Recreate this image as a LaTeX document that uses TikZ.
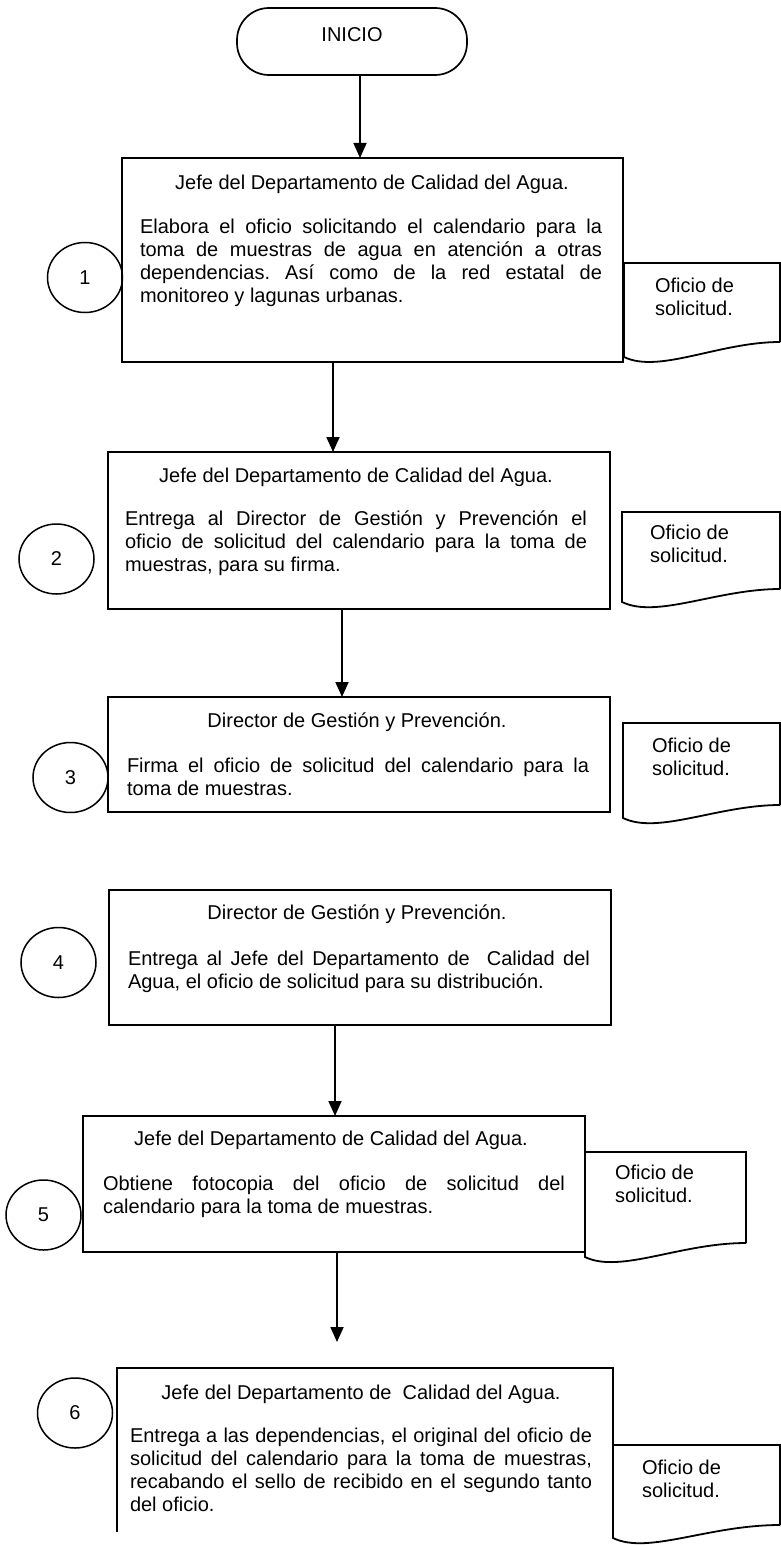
\documentclass[tikz,border=0pt]{standalone}
\usepackage{fontspec}
\setmainfont{Liberation Sans}
\usetikzlibrary{arrows.meta,shapes.geometric}
\hbadness=10000 \hfuzz=30pt
\frenchspacing
\newcommand\jl[1]{\hbox to 462pt{#1}}
\newcommand\lastln[1]{\hbox{#1}}
\newcommand\docshape[5]{% x1 x2 ytop ybottomleft ybottomright
  \draw[docline] (#2,#5) -- (#2,#3) -- (#1,#3) -- (#1,#4)
    .. controls ({#1+35},{#4+17}) and ({#1+95},#5) .. (#2,#5);}
\begin{document}
\begin{tikzpicture}[x=1pt,y=-1pt,
  every node/.style={font=\fontsize{20}{23}\selectfont, inner sep=0pt, outer sep=0pt},
  term/.style={draw, line width=1.7pt, rectangle, rounded corners=32pt, minimum width=230pt, minimum height=67pt},
  stepbox/.style={draw, line width=2pt, rectangle},
  stepcirc/.style={draw, line width=1.5pt, ellipse, minimum width=75pt, minimum height=70pt},
  docline/.style={line width=1.8pt, line join=miter},
  boxline/.style={line width=2pt},
  arr/.style={line width=1.8pt, -{Triangle[width=13pt,length=15pt]}},
  ttl/.style={anchor=base},
  para/.style={anchor=base west},
  doctxt/.style={anchor=base west}]
\useasboundingbox (0,0) rectangle (781,1546);

% start
\node[term] (ini) at (352,41.5) {};
\node[ttl] (initxt) at (352,42) {INICIO};

% step 1
\node[stepbox, minimum width=501pt, minimum height=204pt] (b1) at (372.5,260) {};
\node[ttl] (t1) at (372,190) {Jefe del Departamento de Calidad del Agua.};
\node[para] (p1) at (140,234) {\vtop{%
  \jl{Elabora el oficio solicitando el calendario para la}
  \jl{toma de muestras de agua en atención a otras}
  \jl{dependencias. Así como de la red estatal de}
  \lastln{monitoreo y lagunas urbanas.}}};
\node[stepcirc] (c1) at (85,277.5) {1};
\docshape{624}{780}{263}{357}{342}
\node[doctxt] (d1) at (655,292) {\vtop{\hbox{Oficio de}\hbox{solicitud.}}};

% step 2
\node[stepbox, minimum width=502pt, minimum height=157pt] (b2) at (359,530.5) {};
\node[ttl] (t2) at (356,482) {Jefe del Departamento de Calidad del Agua.};
\node[para] (p2) at (125,525) {\vtop{%
  \jl{Entrega al Director de Gestión y Prevención el}
  \jl{oficio de solicitud del calendario para la toma de}
  \lastln{muestras, para su firma.}}};
\node[stepcirc] (c2) at (56.5,559) {2};
\docshape{622}{780}{512}{602}{589}
\node[doctxt] (d2) at (650,539) {\vtop{\hbox{Oficio de}\hbox{solicitud.}}};

% step 3
\node[stepbox, minimum width=502pt, minimum height=115pt] (b3) at (359,754.5) {};
\node[ttl] (t3) at (357,727) {Director de Gestión y Prevención.};
\node[para] (p3) at (127,772) {\vtop{%
  \jl{Firma el oficio de solicitud del calendario para la}
  \lastln{toma de muestras.}}};
\node[stepcirc] (c3) at (70.5,777.5) {3};
\docshape{623}{780}{723}{818}{805}
\node[doctxt] (d3) at (652,752) {\vtop{\hbox{Oficio de}\hbox{solicitud.}}};

% step 4
\node[stepbox, minimum width=502pt, minimum height=135pt] (b4) at (360,957.5) {};
\node[ttl] (t4) at (357,919) {Director de Gestión y Prevención.};
\node[para] (p4) at (128,965) {\vtop{%
  \jl{Entrega al Jefe del Departamento de\ \ Calidad del}
  \lastln{Agua, el oficio de solicitud para su distribución.}}};
\node[stepcirc] (c4) at (58.5,962.5) {4};

% step 5
\node[stepbox, minimum width=502pt, minimum height=136pt] (b5) at (334,1184) {};
\node[ttl] (t5) at (331,1145) {Jefe del Departamento de Calidad del Agua.};
\node[para] (p5) at (103,1190) {\vtop{%
  \jl{Obtiene fotocopia del oficio de solicitud del}
  \lastln{calendario para la toma de muestras.}}};
\node[stepcirc] (c5) at (43.5,1215) {5};
\docshape{585}{746}{1152}{1257}{1243}
\node[doctxt] (d5) at (615,1179) {\vtop{\hbox{Oficio de}\hbox{solicitud.}}};

% step 6 (cut at the page bottom)
\node[minimum width=496pt, minimum height=164pt] (b6) at (365,1450) {};
\draw[boxline] (b6.south west) -- (b6.north west) -- (b6.north east) -- (b6.north east |- 0,1445);
\node[ttl] (t6) at (361,1399) {Jefe del Departamento de\ \ Calidad del Agua.};
\node[para] (p6) at (130,1442) {\vtop{%
  \jl{Entrega a las dependencias, el original del oficio de}
  \jl{solicitud del calendario para la toma de muestras,}
  \jl{recabando el sello de recibido en el segundo tanto}
  \lastln{del oficio.}}};
\node[stepcirc] (c6) at (75,1413) {6};
\docshape{613}{780}{1445}{1538}{1525}
\node[doctxt] (d6) at (642,1474) {\vtop{\hbox{Oficio de}\hbox{solicitud.}}};

% connectors
\coordinate (e6) at (337,1342);
\draw[arr] ([xshift=8pt]ini.south) -- ([xshift=8pt]ini.south |- b1.north);
\draw[arr] ([xshift=-39.5pt]b1.south) -- ([xshift=-39.5pt]b1.south |- b2.north);
\draw[arr] ([xshift=-17pt]b2.south) -- ([xshift=-17pt]b2.south |- b3.north);
\draw[arr] ([xshift=-25pt]b4.south) -- ([xshift=-25pt]b4.south |- b5.north);
\draw[arr] (b5.south -| e6) -- (e6);
\end{tikzpicture}
\end{document}
